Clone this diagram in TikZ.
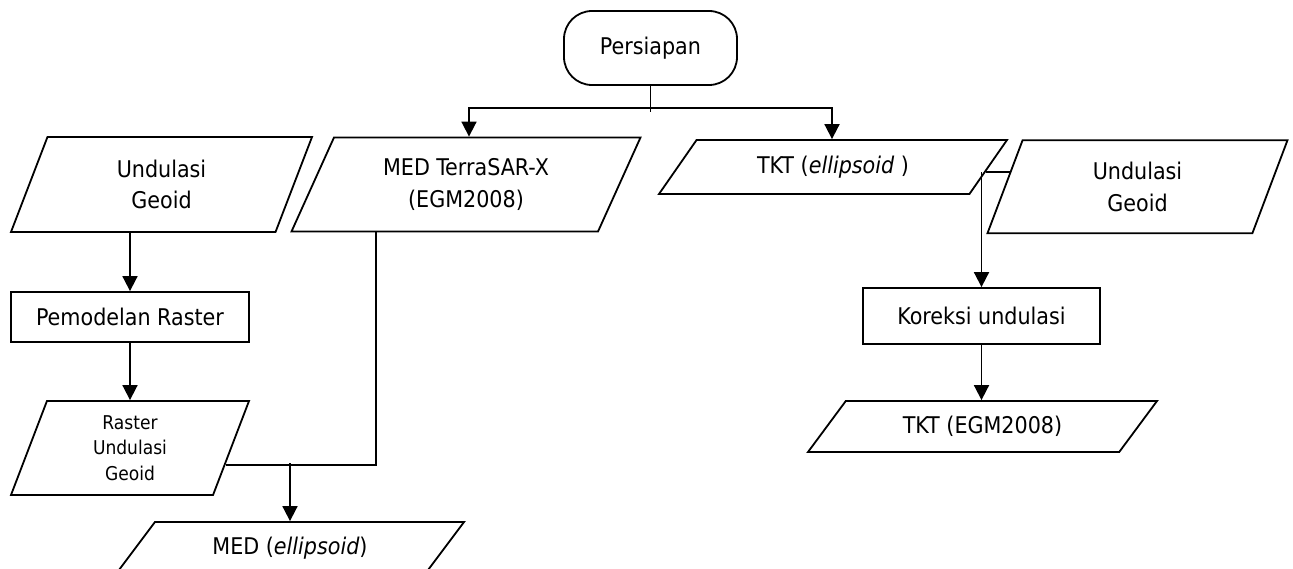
\documentclass[tikz,border=0pt]{standalone}
\usepackage{fontspec}
\setmainfont{DejaVu Sans Condensed}[ItalicFont={DejaVu Sans Condensed Oblique}]
\usetikzlibrary{shapes.geometric,arrows.meta}
\newcommand\txtbig{\fontsize{23}{31.7}\selectfont}
\newcommand\txtsmall{\fontsize{19}{25.5}\selectfont}
\begin{document}
\begin{tikzpicture}[x=1pt, y=-1pt,
          line1/.style ={line width=1.8pt},
          arr/.style   ={line width=1.8pt, -{Triangle[length=15pt,width=15pt]}},
          term/.style  ={draw, line width=1.8pt, rounded corners=28pt, minimum width=173pt, minimum height=74pt, font=\txtbig},
          proc/.style  ={draw, line width=1.8pt, minimum width=238pt, font=\txtbig},
          inout/.style ={trapezium, draw, line width=1.8pt, trapezium stretches body, align=center, inner xsep=2pt, font=\txtbig}
          ]
\useasboundingbox (0,0) rectangle (1293,569);

% nodes
\node[term] (prep) at (650.5,48) {Persiapan};
\node[inout, trapezium left angle=57, trapezium right angle=123, minimum width=301pt, minimum height=95pt] (ugeo1) at (161.5,184.5) {Undulasi\\Geoid};
\node[inout, trapezium left angle=54, trapezium right angle=126, minimum width=349pt, minimum height=94pt] (terra) at (466,184.5) {MED TerraSAR-X\\(EGM2008)};
\node[inout, trapezium left angle=37.6, trapezium right angle=142.4, minimum width=348pt, minimum height=54pt] (tkt1) at (833,167) {TKT (\textit{ellipsoid} )};
\node[inout, trapezium left angle=58, trapezium right angle=122, minimum width=300pt, minimum height=93pt] (ugeo2) at (1137.5,186.7) {Undulasi\\Geoid};
\node[proc, minimum height=50pt] (model) at (130,317) {Pemodelan Raster};
\node[inout, trapezium left angle=63.4, trapezium right angle=116.6, minimum width=238pt, minimum height=94pt, font=\txtsmall] (rast) at (130,448) {Raster\\Undulasi\\Geoid};
\node[inout, trapezium left angle=36.6, trapezium right angle=143.4, minimum width=348pt, minimum height=52pt] (medel) at (290,548) {MED (\textit{ellipsoid})};
\node[proc, minimum width=237pt, minimum height=56pt] (koreksi) at (981.5,316) {Koreksi undulasi};
\node[inout, trapezium left angle=35.7, trapezium right angle=144.3, minimum width=349pt, minimum height=51pt] (tkt2) at (982.5,426.5) {TKT (EGM2008)};

% connectors
\coordinate (sl) at (469,108);
\coordinate (sr) at (832,108);
\draw[line1] (prep.south) -- ++(0,26);
\draw[arr] (prep.south |- sl) -| (sl |- terra.north);
\draw[arr] (prep.south |- sr) -| (sr |- tkt1.north);

\draw[arr] (model.north |- ugeo1.south) -- (model.north);
\draw[arr] (model.south) -- (model.south |- rast.north);

\draw[line1] (376,0 |- terra.south) |- (rast.-10);
\draw[arr] (medel.center |- 0,463) -- (medel.center |- medel.north);

\draw[line1] (tkt1.-2) -- (tkt1.-2 -| ugeo2.172);
\draw[arr] (koreksi.north |- tkt1.-2) -- (koreksi.north);
\draw[arr] (koreksi.south) -- (koreksi.south |- tkt2.north);
\end{tikzpicture}
\end{document}
